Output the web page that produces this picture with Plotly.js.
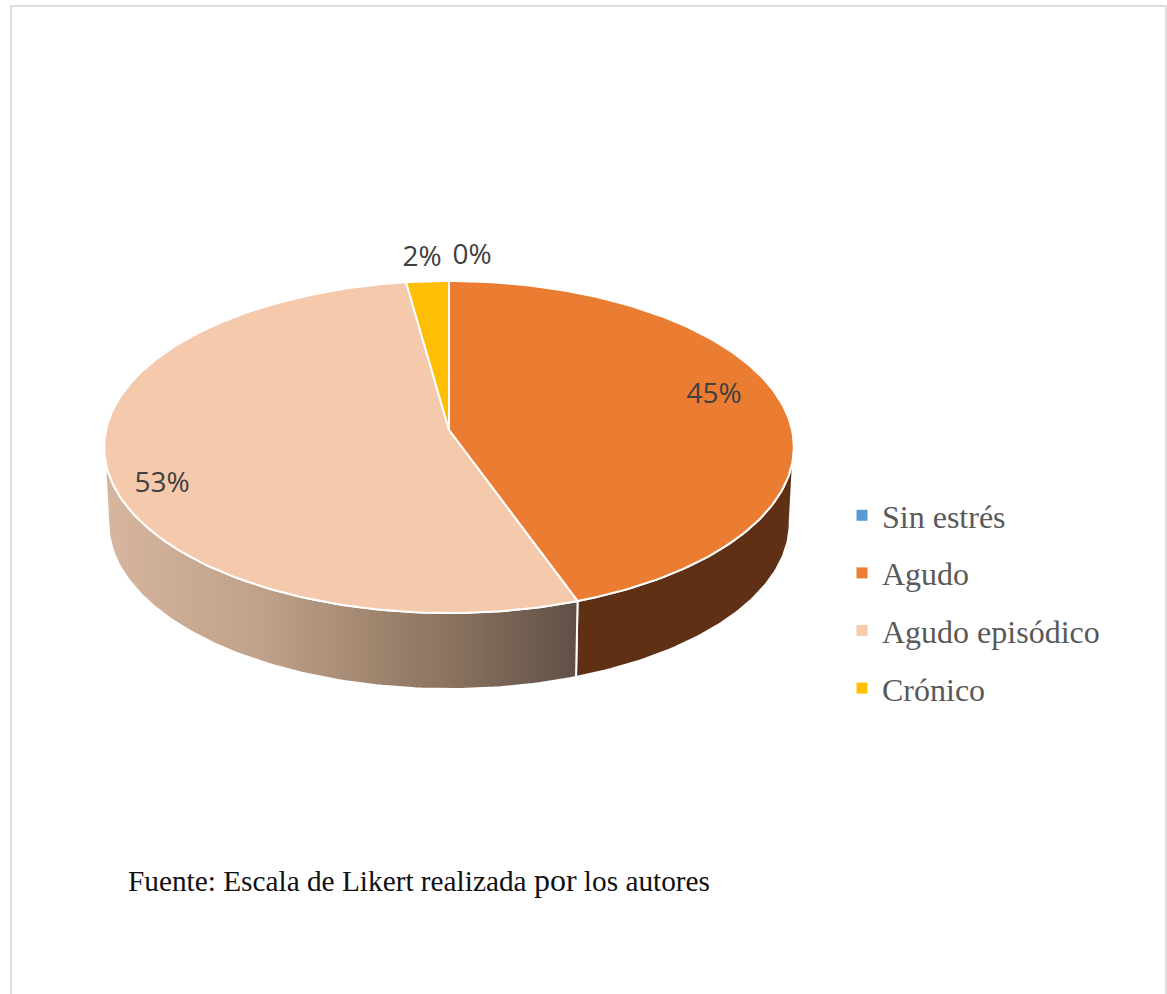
<!DOCTYPE html>
<html>
<head>
<meta charset="utf-8">
<script src="https://cdn.plot.ly/plotly-3.0.1.min.js"></script>
<style>html,body{margin:0;padding:0;background:#fff;overflow:hidden}#chart{width:1167px;height:994px}</style>
</head>
<body>
<div id="chart"></div>
<script>
// Data
const categories = ['Sin estrés', 'Agudo', 'Agudo episódico', 'Crónico'];
const shares = [0, 44.5, 53.3, 2.2];
const footnote = 'Fuente: Escala de Likert realizada <span style="font-size:32px">por</span> los autores';

// Styles
const topColors = ['#5B9BD5', '#EB7D33', '#F5C9AC', '#FDBE04'];
const legendColors = ['#5B9BD5', '#ED7D31', '#F8CBAD', '#FFC000'];
const orangeWall = '#5F3013';
const peachWall = [[0, '#D6B69E'], [0.35, '#BE9F87'], [0.7, '#8F7662'], [1, '#5F5046']];

// Label placement (screen pixels on the hidden axes)
const labelX = [472, 714, 162, 422];
const labelY = [257, 396, 485, 259];

// Oblique projection of the pie disc
const cx = 449, cy = 430, A = 164.3, B = 343, k = 0.1024, depth = 76, lowerScale = 0.988;
const rad = d => d * Math.PI / 180;
function project(theta, level) {
  const den = 1 + k * Math.cos(rad(theta));
  return [
    cx + (level ? lowerScale : 1) * B * Math.sin(rad(theta)) / den,
    cy - A * Math.cos(rad(theta)) / den + (level ? depth : 0)
  ];
}
function arc(a, b, level) {
  const pts = [], n = Math.max(1, Math.ceil(Math.abs(b - a)));
  for (let i = 0; i <= n; i++) pts.push(project(a + (b - a) * i / n, level));
  return pts;
}
const total = shares.reduce((s, v) => s + v, 0);
let run = 0;
const spans = shares.map(v => { const a = run; run += v / total * 360; return [a, run]; });
const visFrom = Math.acos(-k) * 180 / Math.PI, visTo = 360 - visFrom;

const traces = [];
// Side walls
spans.forEach(([a, b], i) => {
  const from = Math.max(a, visFrom), to = Math.min(b, visTo);
  if (to <= from) return;
  const pts = arc(from, to, 0).concat(arc(to, from, 1));
  pts.push(pts[0]);
  const t = {
    x: pts.map(p => p[0]), y: pts.map(p => p[1]), mode: 'lines', fill: 'toself',
    line: {color: '#FFFFFF', width: 2}, showlegend: false, hoverinfo: 'skip'
  };
  if (i === 2) t.fillgradient = {type: 'horizontal', colorscale: peachWall};
  else t.fillcolor = orangeWall;
  traces.push(t);
});
// Top faces
spans.forEach(([a, b], i) => {
  const pts = [[cx, cy]].concat(arc(a, b, 0), [[cx, cy]]);
  traces.push({
    x: pts.map(p => p[0]), y: pts.map(p => p[1]), mode: 'lines', fill: 'toself',
    fillcolor: topColors[i], line: {color: '#FFFFFF', width: 2},
    name: categories[i], showlegend: false, hoverinfo: 'name'
  });
});
// Data labels
traces.push({
  x: labelX, y: labelY, mode: 'text', textposition: 'middle center',
  text: shares.map(v => Math.round(v) + '%'),
  textfont: {family: '"Open Sans", sans-serif', size: 28, color: '#404040'},
  showlegend: false, hoverinfo: 'skip'
});
// Legend entries
categories.forEach((c, i) => traces.push({
  x: [null], y: [null], mode: 'markers', name: c, legendgroup: c,
  marker: {symbol: 'square', size: 11, color: legendColors[i]}
}));

const hiddenAxis = r => ({range: r, visible: false, fixedrange: true, showgrid: false, zeroline: false});
const layout = {
  width: 1167, height: 994, margin: {l: 0, r: 0, t: 0, b: 0},
  paper_bgcolor: '#FFFFFF', plot_bgcolor: '#FFFFFF',
  xaxis: hiddenAxis([0, 1167]), yaxis: hiddenAxis([994, 0]),
  showlegend: true,
  legend: {
    x: 842 / 1167, xanchor: 'left', y: 1 - 488 / 994, yanchor: 'top',
    font: {family: '"Liberation Serif", serif', size: 32, color: '#595959'},
    tracegroupgap: 13, bgcolor: 'rgba(0,0,0,0)', borderwidth: 0
  },
  shapes: [{
    type: 'rect', xref: 'x', yref: 'y', x0: 11, y0: 6, x1: 1166, y1: 1010,
    line: {color: '#DDDDDD', width: 2}, layer: 'below'
  }],
  annotations: [{
    x: 126, y: 880, xref: 'x', yref: 'y', xanchor: 'left', yanchor: 'middle', showarrow: false,
    text: footnote, font: {family: '"Liberation Serif", serif', size: 29.3, color: '#111111'}
  }]
};
Plotly.newPlot('chart', traces, layout, {displayModeBar: false, responsive: false});
</script>
</body>
</html>
